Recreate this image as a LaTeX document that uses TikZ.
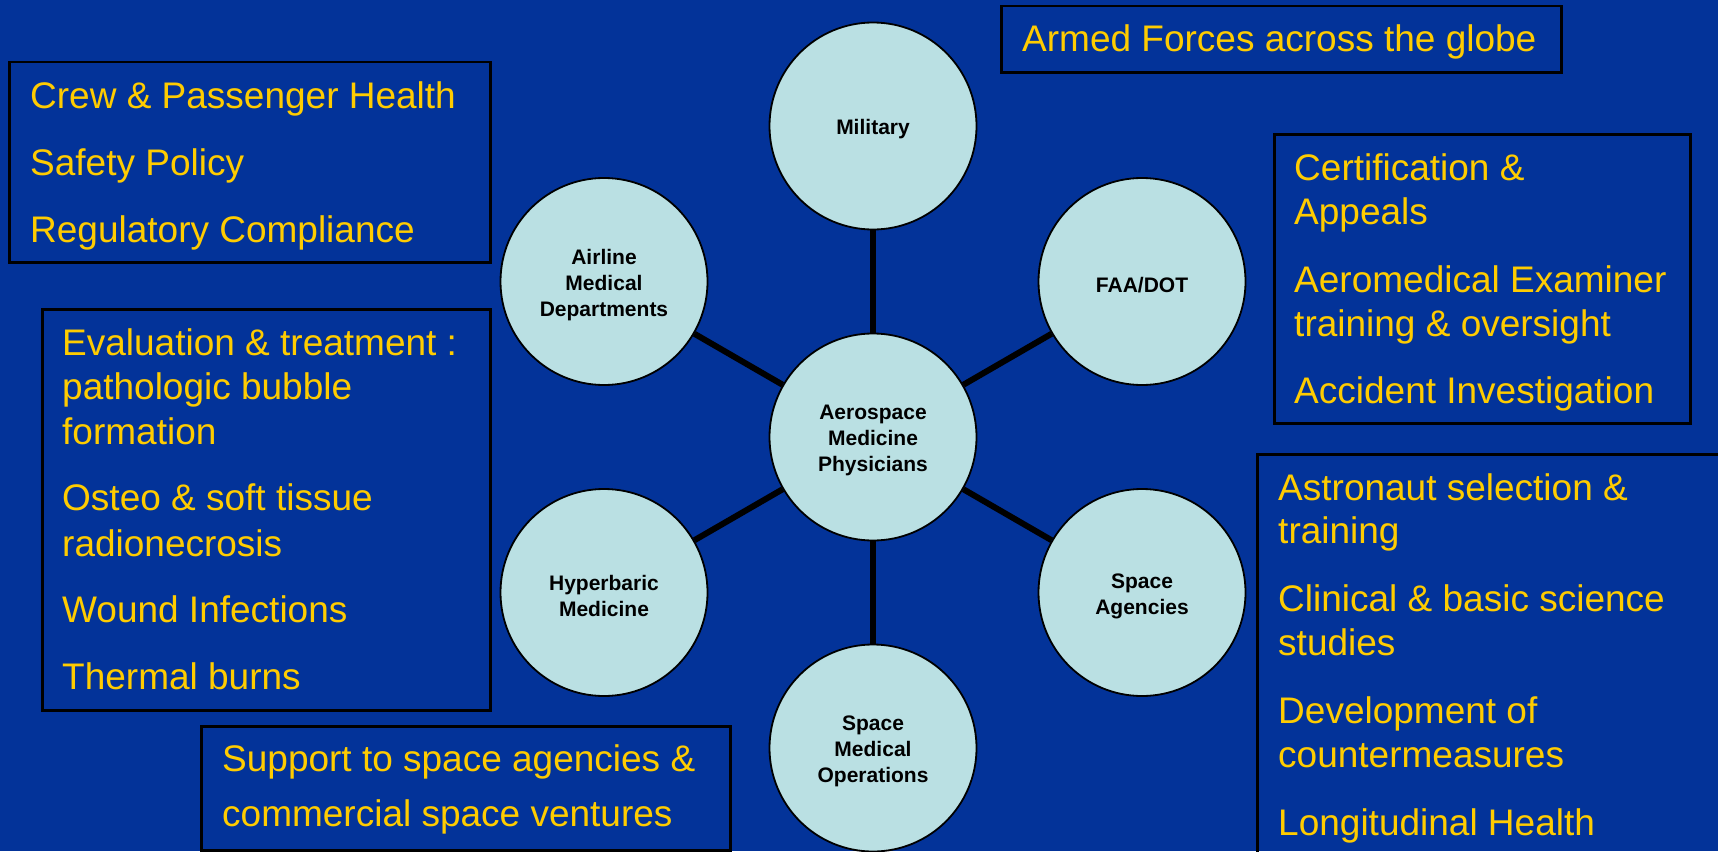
\documentclass[tikz,border=0pt]{standalone}
\usepackage{fontspec}
\setmainfont{Liberation Sans}
\definecolor{bgblue}{RGB}{3,51,153}
\definecolor{circfill}{RGB}{186,224,227}
\definecolor{txtyellow}{RGB}{255,204,0}
\tikzset{
  txtline/.style={anchor=base west, inner sep=0pt, text=txtyellow, font=\fontsize{37}{44.5}\selectfont},
  infobox/.style={draw=black, line width=2.5pt, anchor=north west, inner sep=0pt},
  circnode/.style={circle, draw=black, line width=1.8pt, fill=circfill, minimum size=207pt, inner sep=0pt},
  circtext/.style={inner sep=0pt, align=center, font=\bfseries\fontsize{21}{26}\selectfont, text=black},
  conn/.style={draw=black, line width=6pt}
}
\begin{document}
\begin{tikzpicture}[x=1pt,y=-1pt]
\useasboundingbox (0,0) rectangle (1718,851);
\clip (0,0) rectangle (1718,851);
\fill[bgblue] (0,0) rectangle (1718,851);

% boxes
\node[infobox, minimum width=481pt, minimum height=200pt] (tlbox) at (8,61) {};
\node[infobox, minimum width=560pt, minimum height=66pt] (armbox) at (1000,5) {};
\node[infobox, minimum width=416pt, minimum height=289pt] (certbox) at (1273,133) {};
\node[infobox, minimum width=448pt, minimum height=401pt] (evalbox) at (41,308) {};
\node[infobox, minimum width=529pt, minimum height=124pt] (suppbox) at (200,725) {};
\node[infobox, minimum width=520pt, minimum height=430pt] (spacebox) at (1256,453) {};

% texts
\node[txtline] (tl1) at (30,108) {Crew \& Passenger Health};
\node[txtline] (tl2) at (30,175) {Safety Policy};
\node[txtline] (tl3) at (30,242) {Regulatory Compliance};

\node[txtline] (arm1) at (1022,52) {Armed Forces across the globe};

\node[txtline] (ce1) at (1294,180) {Certification \&};
\node[txtline] (ce2) at (1294,224) {Appeals};
\node[txtline] (ce3) at (1294,292) {Aeromedical Examiner};
\node[txtline] (ce4) at (1294,336) {training \& oversight};
\node[txtline] (ce5) at (1294,403) {Accident Investigation};

\node[txtline] (ev1) at (62,355) {Evaluation \& treatment :};
\node[txtline] (ev2) at (62,399.5) {pathologic bubble};
\node[txtline] (ev3) at (62,444) {formation};
\node[txtline] (ev4) at (62,510) {Osteo \& soft tissue};
\node[txtline] (ev5) at (62,556) {radionecrosis};
\node[txtline] (ev6) at (62,622) {Wound Infections};
\node[txtline] (ev7) at (62,689) {Thermal burns};

\node[txtline] (su1) at (222,771) {Support to space agencies \&};
\node[txtline] (su2) at (222,826) {commercial space ventures};

\node[txtline] (sp1) at (1278,500) {Astronaut selection \&};
\node[txtline] (sp2) at (1278,543) {training};
\node[txtline] (sp3) at (1278,611) {Clinical \& basic science};
\node[txtline] (sp4) at (1278,655) {studies};
\node[txtline] (sp5) at (1278,723) {Development of};
\node[txtline] (sp6) at (1278,767) {countermeasures};
\node[txtline] (sp7) at (1278,835) {Longitudinal Health};

% circles
\node[circnode] (ctr) at (873,437) {};
\node[circnode] (mil) at (873,126) {};
\node[circnode] (faa) at (1142,281.5) {};
\node[circnode] (spa) at (1142,592.5) {};
\node[circnode] (smo) at (873,748) {};
\node[circnode] (hyp) at (604,592.5) {};
\node[circnode] (air) at (604,281.5) {};

\node[circtext] (ctr-t) at ([yshift=-3.5pt]ctr.center) {Aerospace\\Medicine\\Physicians};
\node[circtext] (mil-t) at ([yshift=-3.5pt]mil.center) {Military};
\node[circtext] (faa-t) at ([yshift=-3.5pt]faa.center) {FAA/DOT};
\node[circtext] (spa-t) at ([yshift=-3.5pt]spa.center) {Space\\Agencies};
\node[circtext] (smo-t) at ([yshift=-3.5pt]smo.center) {Space\\Medical\\Operations};
\node[circtext] (hyp-t) at ([yshift=-3.5pt]hyp.center) {Hyperbaric\\Medicine};
\node[circtext] (air-t) at ([yshift=-3.5pt]air.center) {Airline\\Medical\\Departments};

% connectors
\draw[conn] (ctr) -- (mil);
\draw[conn] (ctr) -- (faa);
\draw[conn] (ctr) -- (spa);
\draw[conn] (ctr) -- (smo);
\draw[conn] (ctr) -- (hyp);
\draw[conn] (ctr) -- (air);
\end{tikzpicture}
\end{document}
